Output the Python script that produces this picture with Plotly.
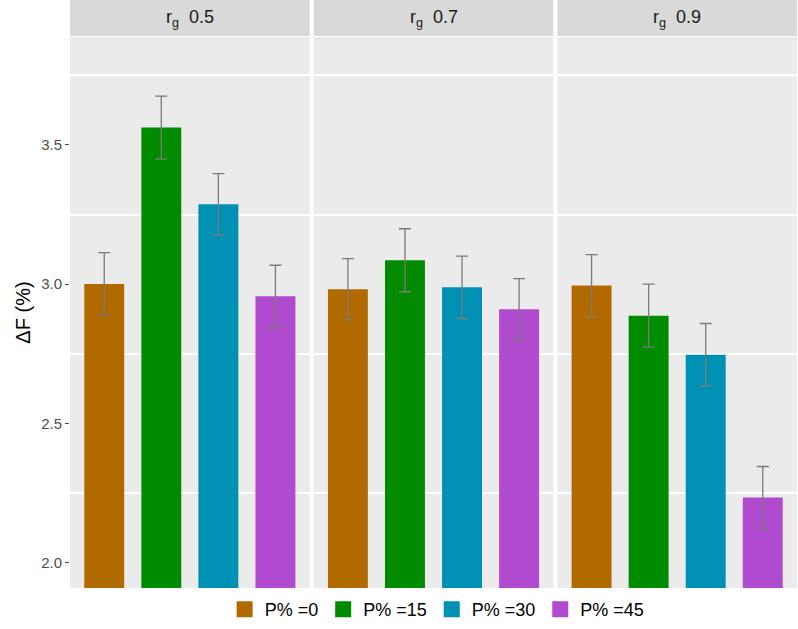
import plotly.graph_objects as go

panels = ["0.5", "0.7", "0.9"]
groups = ["P% =0", "P% =15", "P% =30", "P% =45"]
colors = ["#B06A00", "#008B00", "#0090B4", "#B04ACE"]

# values[panel][group]
values = [
    [3.001, 3.562, 3.287, 2.957],
    [2.982, 3.086, 2.989, 2.910],
    [2.995, 2.887, 2.747, 2.235],
]
errors = [
    [0.112, 0.113, 0.110, 0.111],
    [0.110, 0.113, 0.112, 0.110],
    [0.111, 0.113, 0.112, 0.111],
]

W, H = 798, 629
ml, mr, mt, mb = 70, 1, 0, 41
pw = W - ml - mr
ph = H - mt - mb
gap = 4
panel_w = (pw - 2 * gap) / 3
strip_h = 36
ytop = (ph - strip_h - 1) / ph

fig = go.Figure()
for pi, p in enumerate(panels):
    ax = "" if pi == 0 else str(pi + 1)
    for gi, g in enumerate(groups):
        fig.add_trace(go.Bar(
            x=[g], y=[values[pi][gi]],
            marker=dict(color=colors[gi], line=dict(width=0)),
            error_y=dict(type="data", array=[errors[pi][gi]], color="#7A7A7A",
                         thickness=1.3, width=6),
            xaxis="x" + ax, yaxis="y" + ax,
            showlegend=False, name=g,
        ))

for gi, g in enumerate(groups):
    fig.add_trace(go.Scatter(
        x=[None], y=[None], mode="markers", name=g,
        marker=dict(symbol="square", size=20, color=colors[gi]),
        showlegend=True, xaxis="x", yaxis="y",
    ))

layout = dict(
    width=W, height=H,
    margin=dict(l=ml, r=mr, t=mt, b=mb, autoexpand=False),
    paper_bgcolor="white", plot_bgcolor="#EBEBEB",
    font=dict(family="Liberation Sans, Arial", color="#4D4D4D"),
    bargap=0.3,
    legend=dict(orientation="h", x=0.505, xanchor="center", y=-0.005, yanchor="top",
                font=dict(size=18, color="black"), itemsizing="trace",
                itemwidth=30, tracegroupgap=0, traceorder="normal"),
    shapes=[], annotations=[],
)

for pi, p in enumerate(panels):
    ax = "" if pi == 0 else str(pi + 1)
    x0 = pi * (panel_w + gap) / pw
    x1 = (pi * (panel_w + gap) + panel_w) / pw
    layout["xaxis" + ax] = dict(
        domain=[x0, x1], range=[-0.6, 3.6], showticklabels=False, ticks="",
        showgrid=False, zeroline=False, categoryorder="array", categoryarray=groups,
        anchor="y" + ax, automargin=False,
    )
    yax = dict(
        domain=[0, ytop], range=[1.91, 3.887], anchor="x" + ax,
        showgrid=False, zeroline=False, automargin=False,
        tickvals=[2.0, 2.5, 3.0, 3.5], ticktext=["2.0", "2.5", "3.0", "3.5"],
        minor=dict(tickvals=[2.25, 2.75, 3.25, 3.75], showgrid=True,
                   gridcolor="white", gridwidth=1.5, ticklen=0),
    )
    if pi == 0:
        yax.update(ticks="outside", ticklen=4, tickcolor="#4D4D4D", tickwidth=1,
                   tickfont=dict(size=15, color="#4D4D4D"),
                   title=dict(text="ΔF (%)", font=dict(size=20, color="black"), standoff=5))
    else:
        yax.update(showticklabels=False, ticks="", matches="y")
    layout["yaxis" + ax] = yax
    layout["shapes"].append(dict(type="rect", xref="paper", yref="paper",
                                 x0=x0, x1=x1, y0=(ph - strip_h) / ph, y1=1,
                                 fillcolor="#D9D9D9", line=dict(width=0), layer="below"))
    layout["annotations"].append(dict(
        xref="paper", yref="paper", x=(x0 + x1) / 2, y=(ph - strip_h / 2) / ph,
        text="r<sub>g</sub>  " + p, showarrow=False, xanchor="center", yanchor="middle",
        font=dict(size=18, color="#1A1A1A")))

fig.update_layout(**layout)
fig.write_html("out.html", config={"displayModeBar": False},
               post_script="document.body.style.margin='0';document.body.style.overflow='hidden';")
